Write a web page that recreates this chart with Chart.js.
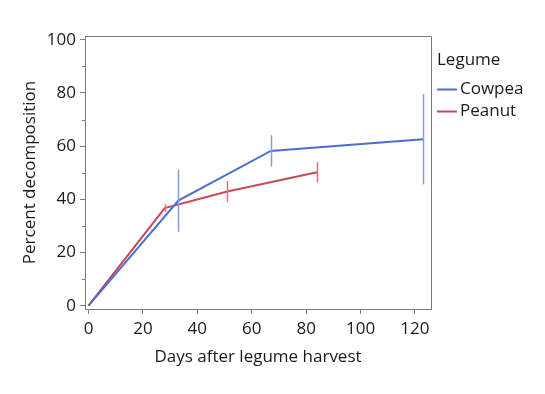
<!DOCTYPE html>
<html>
<head>
<meta charset="utf-8">
<script src="https://cdn.jsdelivr.net/npm/chart.js@4/dist/chart.umd.min.js"></script>
<style>
  html, body { margin: 0; padding: 0; background: #fff; }
  #wrap { width: 545px; height: 394px; }
</style>
</head>
<body>
<div id="wrap"><canvas id="decompChart" width="545" height="394"></canvas></div>
<script>
// data
const seriesNames = ['Cowpea', 'Peanut'];
const cowpeaDays  = [0, 33, 67, 123];
const cowpeaPct   = [0, 39.5, 58.2, 62.6];
const cowpeaErr   = [0, 11.7, 5.9, 17];
const peanutDays  = [0, 28, 51, 84];
const peanutPct   = [0, 36.7, 42.9, 50.2];
const peanutErr   = [0, 1.5, 4, 3.8];
const xTicks = [0, 20, 40, 60, 80, 100, 120];
const yTicks = [0, 20, 40, 60, 80, 100];
const yMinorTicks = [10, 30, 50, 70, 90];

const lineColors = ['#4a6fd3', '#c8475a'];
const errColors  = ['#7f9de3', '#db7383'];
const FONT = "'Open Sans', 'Noto Sans', sans-serif";
const FSIZE = 17;

const toPoints = (xs, ys) => xs.map((x, i) => ({ x: x, y: ys[i] }));

const errorBars = {
  id: 'errorBars',
  afterDatasetsDraw(chart) {
    const { ctx, scales: { x, y } } = chart;
    const errs = [cowpeaErr, peanutErr];
    ctx.save();
    chart.data.datasets.forEach((ds, i) => {
      ctx.strokeStyle = errColors[i];
      ctx.lineWidth = 1.5;
      ds.data.forEach((p, j) => {
        const e = errs[i][j];
        if (!e) return;
        const px = Math.round(x.getPixelForValue(p.x)) + 0.5;
        ctx.beginPath();
        ctx.moveTo(px, y.getPixelForValue(p.y + e));
        ctx.lineTo(px, y.getPixelForValue(p.y - e));
        ctx.stroke();
      });
    });
    ctx.restore();
  }
};

const frameAndLegend = {
  id: 'frameAndLegend',
  afterDraw(chart) {
    const { ctx, chartArea: a, scales: { y } } = chart;
    ctx.save();
    // frame on top and right
    ctx.strokeStyle = '#7a7a7a';
    ctx.lineWidth = 1;
    ctx.beginPath();
    ctx.moveTo(a.left, a.top + 0.5);
    ctx.lineTo(a.right + 0.5, a.top + 0.5);
    ctx.lineTo(a.right + 0.5, a.bottom);
    ctx.stroke();
    // minor ticks on y
    ctx.beginPath();
    yMinorTicks.forEach(v => {
      const py = Math.round(y.getPixelForValue(v)) + 0.5;
      ctx.moveTo(a.left - 3, py);
      ctx.lineTo(a.left, py);
    });
    ctx.stroke();
    // legend
    ctx.fillStyle = '#1a1a1a';
    ctx.font = FSIZE + 'px ' + FONT;
    ctx.textBaseline = 'middle';
    ctx.textAlign = 'left';
    ctx.fillText('Legume', 437, 60);
    seriesNames.forEach((name, i) => {
      const ly = 89 + i * 22;
      ctx.strokeStyle = lineColors[i];
      ctx.lineWidth = 2;
      ctx.beginPath();
      ctx.moveTo(437, ly + 0.5);
      ctx.lineTo(457, ly + 0.5);
      ctx.stroke();
      ctx.fillText(name, 460, ly);
    });
    ctx.restore();
  }
};

new Chart(document.getElementById('decompChart'), {
  type: 'line',
  data: {
    datasets: [
      { label: seriesNames[0], data: toPoints(cowpeaDays, cowpeaPct), borderColor: lineColors[0], borderWidth: 2, pointRadius: 0, fill: false, tension: 0 },
      { label: seriesNames[1], data: toPoints(peanutDays, peanutPct), borderColor: lineColors[1], borderWidth: 2, pointRadius: 0, fill: false, tension: 0 }
    ]
  },
  options: {
    responsive: false,
    animation: false,
    layout: { padding: { top: 36, right: 114, bottom: 0, left: 0 } },
    plugins: { legend: { display: false }, tooltip: { enabled: false } },
    scales: {
      x: {
        type: 'linear',
        min: -1.3, max: 125.9,
        afterFit(scale) { scale.height = 85; },
        afterBuildTicks(scale) { scale.ticks = xTicks.map(v => ({ value: v })); },
        grid: { display: true, drawOnChartArea: false, tickLength: 5, color: '#7a7a7a' },
        border: { display: true, color: '#7a7a7a' },
        ticks: { color: '#1a1a1a', font: { family: FONT, size: FSIZE }, padding: 5, maxRotation: 0 },
        title: { display: true, text: 'Days after legume harvest', color: '#1a1a1a', font: { family: FONT, size: FSIZE }, padding: { top: 0, bottom: 27 } }
      },
      y: {
        type: 'linear',
        min: -1.24, max: 101.4,
        afterFit(scale) { scale.width = 85; },
        afterBuildTicks(scale) { scale.ticks = yTicks.map(v => ({ value: v })); },
        grid: { display: true, drawOnChartArea: false, tickLength: 5, color: '#7a7a7a' },
        border: { display: true, color: '#7a7a7a' },
        ticks: { color: '#1a1a1a', font: { family: FONT, size: FSIZE }, padding: 4 },
        title: { display: true, text: 'Percent decomposition', color: '#1a1a1a', font: { family: FONT, size: FSIZE }, padding: { top: 20, bottom: 0 } }
      }
    }
  },
  plugins: [errorBars, frameAndLegend]
});
</script>
</body>
</html>
